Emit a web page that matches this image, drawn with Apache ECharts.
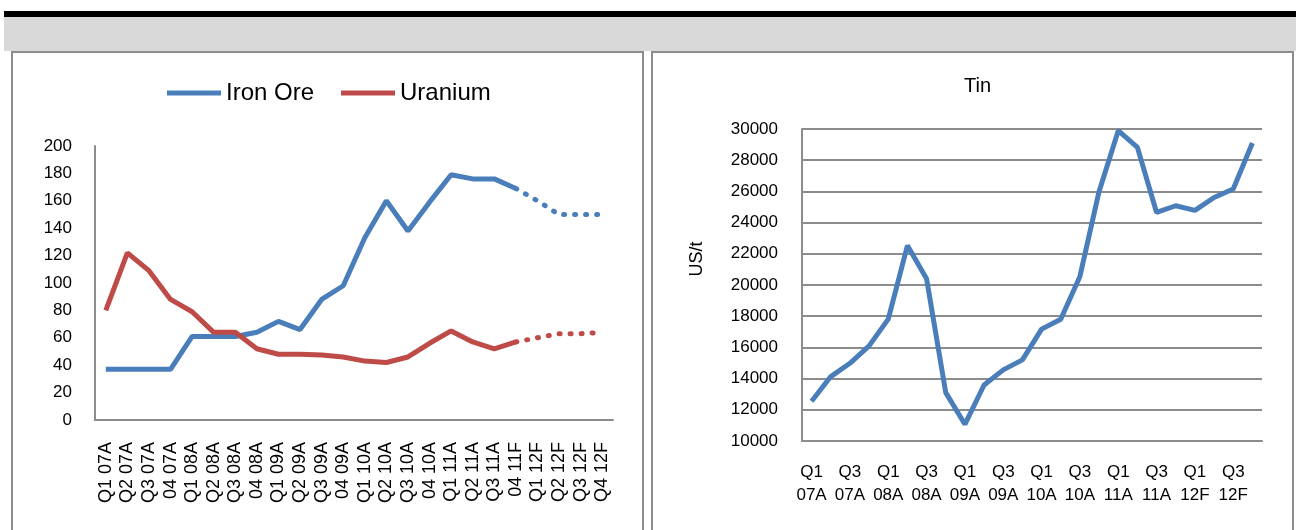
<!DOCTYPE html>
<html style="height: 100%">
<head>
<meta charset="utf-8">
<script src="https://cdn.jsdelivr.net/npm/echarts@6/dist/echarts.min.js"></script>
</head>
<body style="height: 100%; margin: 0">
<div id="container" style="width: 1296px; height: 530px"></div>
<script type="text/javascript">
// left panel: quarterly prices, last five quarters are forecasts (dotted)
var leftCats = ['Q1 07A', 'Q2 07A', 'Q3 07A', '04 07A', 'Q1 08A', 'Q2 08A', 'Q3 08A', '04 08A',
    'Q1 09A', 'Q2 09A', 'Q3 09A', '04 09A', 'Q1 10A', 'Q2 10A', 'Q3 10A', '04 10A',
    'Q1 11A', 'Q2 11A', 'Q3 11A', '04 11F', 'Q1 12F', 'Q2 12F', 'Q3 12F', 'Q4 12F'];
var ironOre = [37, 37, 37, 37, 61, 61, 61, 64, 72, 66, 88, 98, 133, 160, 138, 159, 179, 176, 176, 169, 160, 150, 150, 150];
var uranium = [80, 122, 109, 88, 79, 64, 64, 52, 48, 48, 47.5, 46, 43, 42, 46, 56, 65, 57, 52, 57, 60, 63, 63, 64];
var firstForecast = 19; // index where the dotted part starts

// right panel: tin, US/t
var tinCats = ['Q1 07A', 'Q2 07A', 'Q3 07A', 'Q4 07A', 'Q1 08A', 'Q2 08A', 'Q3 08A', 'Q4 08A',
    'Q1 09A', 'Q2 09A', 'Q3 09A', 'Q4 09A', 'Q1 10A', 'Q2 10A', 'Q3 10A', 'Q4 10A',
    'Q1 11A', 'Q2 11A', 'Q3 11A', 'Q4 11A', 'Q1 12F', 'Q2 12F', 'Q3 12F', 'Q4 12F'];
var tin = [12550, 14130, 14980, 16100, 17810, 22530, 20400, 13100, 11070, 13590, 14560, 15200,
    17170, 17810, 20550, 26000, 29890, 28820, 24650, 25080, 24780, 25610, 26150, 29100];

var BLUE = '#4a7ebb', RED = '#be4b48', AXIS = '#8c8c8c';
var FONT = 'Liberation Sans, Arial, sans-serif';

function actualPart(arr) {
    return arr.map(function (v, i) { return i <= firstForecast ? v : null; });
}
function forecastPart(arr) {
    return arr.map(function (v, i) { return i >= firstForecast ? v : null; });
}

var myChart = echarts.init(document.getElementById('container'));
var option = {
    backgroundColor: '#fff',
    animation: false,
    textStyle: { fontFamily: FONT, color: '#000' },
    graphic: [
        { type: 'rect', z: -10, shape: { x: 4, y: 11, width: 1292, height: 6 }, style: { fill: '#000' } },
        { type: 'rect', z: -10, shape: { x: 4, y: 17, width: 1292, height: 34 }, style: { fill: '#d9d9d9' } },
        { type: 'rect', z: -10, shape: { x: 12, y: 52, width: 631, height: 500 }, style: { fill: 'none', stroke: AXIS, lineWidth: 2 } },
        { type: 'rect', z: -10, shape: { x: 652, y: 52, width: 641, height: 500 }, style: { fill: 'none', stroke: AXIS, lineWidth: 2 } },
        { type: 'text', x: 697, y: 259, rotation: Math.PI / 2,
          style: { text: 'US/t', fontSize: 18, fontFamily: FONT, fill: '#000', align: 'center', verticalAlign: 'middle' } }
    ],
    title: {
        text: 'Tin', left: 959, top: 71,
        textStyle: { fontSize: 20, fontWeight: 'normal', color: '#000', fontFamily: FONT }
    },
    legend: {
        data: ['Iron Ore', 'Uranium'],
        left: 162, top: 76,
        icon: 'rect', itemWidth: 54, itemHeight: 5, itemGap: 27,
        textStyle: { fontSize: 24, color: '#000', fontFamily: FONT }
    },
    grid: [
        { left: 95, width: 518, top: 146, height: 274, containLabel: false },
        { left: 802, width: 460, top: 129, height: 312, containLabel: false }
    ],
    xAxis: [
        {
            type: 'category', gridIndex: 0, data: leftCats, boundaryGap: true,
            axisLine: { lineStyle: { color: AXIS, width: 2 } },
            axisTick: { show: false },
            axisLabel: { interval: 0, rotate: 90, margin: 22, fontSize: 18, color: '#000' }
        },
        {
            type: 'category', gridIndex: 1, data: tinCats, boundaryGap: true,
            axisLine: { lineStyle: { color: AXIS, width: 2 } },
            axisTick: { show: false },
            axisLabel: {
                interval: 1, margin: 20, fontSize: 17, lineHeight: 23, color: '#000',
                formatter: function (v) { return v.replace(' ', '\n'); }
            }
        }
    ],
    yAxis: [
        {
            type: 'value', gridIndex: 0, min: 0, max: 200, interval: 20,
            axisLine: { show: true, lineStyle: { color: AXIS, width: 2 } },
            axisTick: { show: false },
            splitLine: { show: false },
            axisLabel: { margin: 23, fontSize: 17, color: '#000' }
        },
        {
            type: 'value', gridIndex: 1, min: 10000, max: 30000, interval: 2000,
            axisLine: { show: true, lineStyle: { color: AXIS, width: 2 } },
            axisTick: { show: false },
            splitLine: { show: true, lineStyle: { color: AXIS, width: 2 } },
            axisLabel: {
                margin: 24, fontSize: 17, color: '#000',
                formatter: function (v) { return String(v); }
            }
        }
    ],
    series: [
        {
            name: 'Iron Ore', type: 'line', xAxisIndex: 0, yAxisIndex: 0,
            data: actualPart(ironOre), showSymbol: false, symbol: 'none',
            itemStyle: { color: BLUE }, lineStyle: { color: BLUE, width: 5 }
        },
        {
            name: 'Iron Ore F', type: 'line', xAxisIndex: 0, yAxisIndex: 0,
            data: forecastPart(ironOre), showSymbol: false, symbol: 'none',
            itemStyle: { color: BLUE },
            lineStyle: { color: BLUE, width: 5, type: [1, 10], cap: 'round' }
        },
        {
            name: 'Uranium', type: 'line', xAxisIndex: 0, yAxisIndex: 0,
            data: actualPart(uranium), showSymbol: false, symbol: 'none',
            itemStyle: { color: RED }, lineStyle: { color: RED, width: 5 }
        },
        {
            name: 'Uranium F', type: 'line', xAxisIndex: 0, yAxisIndex: 0,
            data: forecastPart(uranium), showSymbol: false, symbol: 'none',
            itemStyle: { color: RED },
            lineStyle: { color: RED, width: 5, type: [1, 10], cap: 'round' }
        },
        {
            name: 'Tin', type: 'line', xAxisIndex: 1, yAxisIndex: 1,
            data: tin, showSymbol: false, symbol: 'none',
            itemStyle: { color: BLUE }, lineStyle: { color: BLUE, width: 5 }
        }
    ]
};
myChart.setOption(option);
</script>
</body>
</html>
